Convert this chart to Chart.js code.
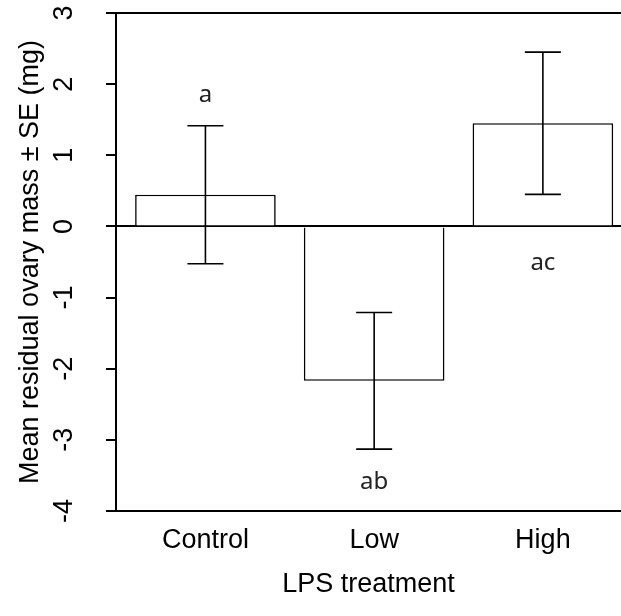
<!DOCTYPE html>
<html>
<head>
<meta charset="utf-8">
<script src="https://cdn.jsdelivr.net/npm/chart.js@4"></script>
<style>
  html, body { margin: 0; padding: 0; background: #fff; overflow: hidden; }
</style>
</head>
<body>
<canvas id="ovary" width="621" height="616"></canvas>
<script>
'use strict';

// data
const treatments = ["Control", "Low", "High"];
const meanMass = [0.445, -2.17, 1.45];
const seMass = [0.97, 0.96, 1.0];
const groupLetters = ["a", "ab", "ac"];
const letterY = [1.84, -3.59, -0.51];
const yTicks = [-4, -3, -2, -1, 0, 1, 2, 3];
const refLines = [-4, 0, 3];

const mainFont = "'Liberation Sans', Arial, Helvetica, sans-serif";
const labelFont = { family: mainFont, size: 27 };

// error bars + significance letters, drawn through the chart scales
let errorBars = {
  id: 'errorBars',
  afterDatasetsDraw(chart) {
    const ctx = chart.ctx;
    const xs = chart.scales.x;
    const ys = chart.scales.y;
    const cap = 18;
    ctx.save();
    ctx.strokeStyle = '#000';
    ctx.lineWidth = 1.6;
    for (let i = 0; i < meanMass.length; i++) {
      let px = xs.getPixelForValue(i);
      let hi = ys.getPixelForValue(meanMass[i] + seMass[i]);
      let lo = ys.getPixelForValue(meanMass[i] - seMass[i]);
      ctx.beginPath();
      ctx.moveTo(px, hi); ctx.lineTo(px, lo);
      ctx.moveTo(px - cap, hi); ctx.lineTo(px + cap, hi);
      ctx.moveTo(px - cap, lo); ctx.lineTo(px + cap, lo);
      ctx.stroke();
    }
    ctx.font = "24px 'Noto Sans', sans-serif";
    ctx.fillStyle = '#222';
    ctx.textAlign = 'center';
    ctx.textBaseline = 'middle';
    for (let i = 0; i < groupLetters.length; i++) {
      ctx.fillText(groupLetters[i], xs.getPixelForValue(i), ys.getPixelForValue(letterY[i]));
    }
    ctx.restore();
  }
};

let chart = new Chart(document.getElementById("ovary"), {
  type: 'bar',
  data: {
    datasets: [{
      data: meanMass.map((v, i) => ({ x: i, y: v })),
      backgroundColor: '#fff',
      borderColor: '#000',
      borderWidth: 1.6,
      borderSkipped: 'start',
      inflateAmount: 0,
      categoryPercentage: 1,
      barPercentage: 1 / 1.2,
    }],
  },
  options: {
    responsive: false,
    animation: false,
    layout: { padding: { top: 13, left: 0, right: 0, bottom: 0 } },
    plugins: {
      legend: { display: false },
      tooltip: { enabled: false },
    },
    scales: {
      x: {
        type: 'linear',
        offset: false,
        min: -0.53,
        max: 2.463,
        grid: { display: false, drawTicks: false, offset: false },
        border: { display: false },
        afterBuildTicks: (axis) => { axis.ticks = treatments.map((t, i) => ({ value: i })); },
        ticks: {
          callback: (value) => treatments[value],
          font: labelFont,
          color: '#000',
          padding: 13,
          maxRotation: 0,
          autoSkip: false,
        },
        title: {
          display: true,
          text: 'LPS treatment',
          font: labelFont,
          color: '#000',
          padding: { top: 0, bottom: 15 },
        },
        afterFit: (axis) => { axis.height = 105; axis.paddingLeft = 0; axis.paddingRight = 0; },
      },
      y: {
        min: -4,
        max: 3,
        z: 1,
        afterBuildTicks: (axis) => { axis.ticks = yTicks.map(v => ({ value: v })); },
        grid: {
          color: (c) => refLines.includes(c.tick && c.tick.value) ? '#000' : 'rgba(0,0,0,0)',
          tickColor: '#000',
          lineWidth: 2,
          tickWidth: 2,
          tickLength: 10,
        },
        border: { display: true, color: '#000', width: 2 },
        ticks: {
          minRotation: 90,
          maxRotation: 90,
          crossAlign: 'center',
          padding: 29,
          font: labelFont,
          color: '#000',
        },
        title: {
          display: true,
          text: 'Mean residual ovary mass ± SE (mg)',
          font: labelFont,
          color: '#000',
          padding: { top: 14, bottom: 0 },
        },
        afterFit: (axis) => { axis.width = 116; axis.paddingTop = 0; axis.paddingBottom = 0; },
      },
    },
  },
  plugins: [errorBars],
});
</script>
</body>
</html>
